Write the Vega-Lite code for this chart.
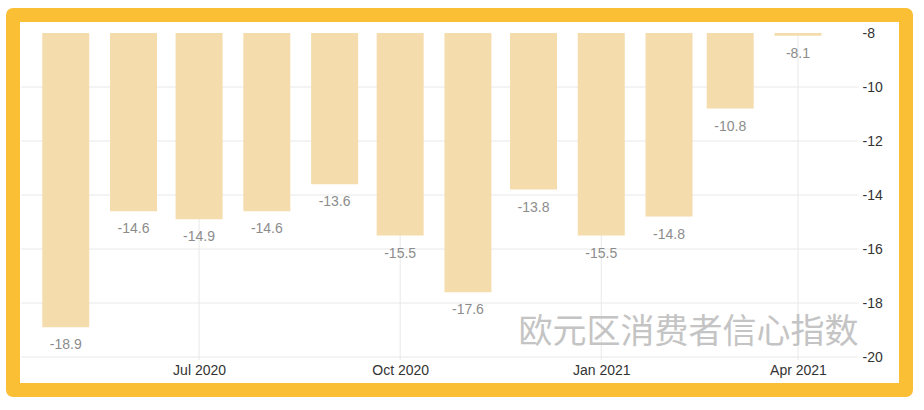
{
  "$schema": "https://vega.github.io/schema/vega-lite/v6.json",
  "width": 893,
  "height": 375,
  "autosize": {"type": "none"},
  "padding": {"left": 13, "top": 15, "right": 18, "bottom": 20},
  "background": "white",
  "config": {
    "view": {"stroke": "#FBBF36", "strokeWidth": 14, "strokeJoin": "round", "fill": "white"},
    "axis": {"grid": false, "domain": false, "ticks": false, "title": null, "labelFont": "Liberation Sans", "labelFontSize": 14, "labelColor": "#333333"}
  },
  "datasets": {
    "bars": [
      {"date": "2020-05-01", "v": -18.9},
      {"date": "2020-06-01", "v": -14.6},
      {"date": "2020-07-01", "v": -14.9},
      {"date": "2020-08-01", "v": -14.6},
      {"date": "2020-09-01", "v": -13.6},
      {"date": "2020-10-01", "v": -15.5},
      {"date": "2020-11-01", "v": -17.6},
      {"date": "2020-12-01", "v": -13.8},
      {"date": "2021-01-01", "v": -15.5},
      {"date": "2021-02-01", "v": -14.8},
      {"date": "2021-03-01", "v": -10.8},
      {"date": "2021-04-01", "v": -8.1}
    ],
    "ygrid": [{"v": -10}, {"v": -12}, {"v": -14}, {"v": -16}, {"v": -18}, {"v": -20}],
    "xgrid": [{"date": "2020-07-01"}, {"date": "2020-10-01"}, {"date": "2021-01-01"}, {"date": "2021-04-01"}],
    "note": [{"label": "欧元区消费者信心指数"}]
  },
  "layer": [
    {
      "data": {"name": "ygrid"},
      "mark": {"type": "rule", "color": "#e8e8e8", "strokeWidth": 1},
      "encoding": {
        "y": {"field": "v", "type": "quantitative", "scale": {"domain": [-21.222, -7.333], "nice": false, "zero": false, "padding": 0}},
        "x": {"datum": {"year": 2020, "month": 4, "date": 10, "hours": 12, "utc": true}, "type": "temporal",
              "scale": {"type": "utc", "nice": false, "padding": 0, "domain": [{"year": 2020, "month": 4, "date": 6, "hours": 21, "utc": true}, {"year": 2021, "month": 5, "date": 20, "hours": 10, "utc": true}]}},
        "x2": {"datum": {"year": 2021, "month": 4, "date": 28, "hours": 16, "utc": true}}
      }
    },
    {
      "data": {"name": "xgrid"},
      "mark": {"type": "rule", "color": "#e8e8e8", "strokeWidth": 1},
      "encoding": {
        "x": {"field": "date", "type": "temporal",
              "scale": {"type": "utc", "nice": false, "padding": 0, "domain": [{"year": 2020, "month": 4, "date": 6, "hours": 21, "utc": true}, {"year": 2021, "month": 5, "date": 20, "hours": 10, "utc": true}]}},
        "y": {"datum": -8, "type": "quantitative", "scale": {"domain": [-21.222, -7.333], "nice": false, "zero": false, "padding": 0}},
        "y2": {"datum": -20.11}
      }
    },
    {
      "data": {"name": "bars"},
      "mark": {"type": "bar", "size": 47, "color": "#F5DCAD"},
      "encoding": {
        "x": {"field": "date", "type": "temporal",
              "scale": {"type": "utc", "nice": false, "padding": 0, "domain": [{"year": 2020, "month": 4, "date": 6, "hours": 21, "utc": true}, {"year": 2021, "month": 5, "date": 20, "hours": 10, "utc": true}]},
              "axis": {"orient": "bottom", "offset": -28, "labelPadding": 1, "labelBaseline": "top", "labelFlush": false, "labelOverlap": false,
                       "labelExpr": "utcFormat(datum.value, '%b %Y')",
                       "values": [{"year": 2020, "month": 7, "date": 1, "utc": true}, {"year": 2020, "month": 10, "date": 1, "utc": true}, {"year": 2021, "month": 1, "date": 1, "utc": true}, {"year": 2021, "month": 4, "date": 1, "utc": true}]}},
        "y": {"field": "v", "type": "quantitative",
              "scale": {"domain": [-21.222, -7.333], "nice": false, "zero": false, "padding": 0},
              "axis": {"orient": "right", "offset": -46, "labelPadding": 2, "labelAlign": "left", "labelBaseline": "middle", "labelFlush": false, "labelOverlap": false,
                       "values": [-8, -10, -12, -14, -16, -18, -20], "labelExpr": "toString(datum.value)"}},
        "y2": {"datum": -8}
      }
    },
    {
      "data": {"name": "bars"},
      "mark": {"type": "text", "dy": 18, "align": "center", "baseline": "middle", "font": "Liberation Sans", "fontSize": 14, "color": "#8c8c8c"},
      "encoding": {
        "x": {"field": "date", "type": "temporal",
              "scale": {"type": "utc", "nice": false, "padding": 0, "domain": [{"year": 2020, "month": 4, "date": 6, "hours": 21, "utc": true}, {"year": 2021, "month": 5, "date": 20, "hours": 10, "utc": true}]}},
        "y": {"field": "v", "type": "quantitative", "scale": {"domain": [-21.222, -7.333], "nice": false, "zero": false, "padding": 0}},
        "text": {"field": "v", "type": "nominal"}
      }
    },
    {
      "data": {"name": "note"},
      "mark": {"type": "text", "align": "right", "baseline": "middle", "font": "Noto Sans CJK SC", "fontSize": 34, "color": "#c4c4c4"},
      "encoding": {
        "x": {"datum": {"year": 2021, "month": 4, "date": 28, "hours": 16, "utc": true}, "type": "temporal",
              "scale": {"type": "utc", "nice": false, "padding": 0, "domain": [{"year": 2020, "month": 4, "date": 6, "hours": 21, "utc": true}, {"year": 2021, "month": 5, "date": 20, "hours": 10, "utc": true}]}},
        "y": {"datum": -19.11, "type": "quantitative", "scale": {"domain": [-21.222, -7.333], "nice": false, "zero": false, "padding": 0}},
        "text": {"field": "label", "type": "nominal"}
      }
    }
  ]
}
